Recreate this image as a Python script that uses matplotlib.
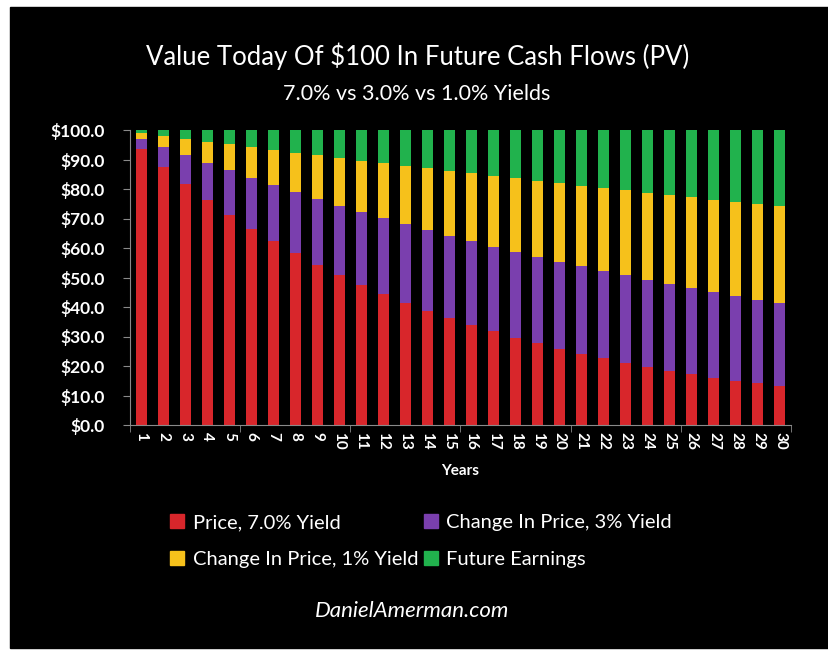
import matplotlib
matplotlib.use('Agg')
import matplotlib.pyplot as plt
from matplotlib.patches import Rectangle, Patch
import numpy as np

years = list(range(1, 31))

# cumulative tops
price_7 = [93.5, 87.3, 81.6, 76.3, 71.3, 66.6, 62.3, 58.2, 54.4, 50.8,
           47.5, 44.4, 41.5, 38.8, 36.2, 33.9, 31.7, 29.6, 27.7, 25.8,
           24.2, 22.6, 21.1, 19.7, 18.4, 17.2, 16.1, 15.0, 14.1, 13.1]
price_3 = [97.1, 94.3, 91.5, 88.8, 86.3, 83.7, 81.3, 78.9, 76.6, 74.4,
           72.2, 70.1, 68.1, 66.1, 64.2, 62.3, 60.5, 58.7, 57.0, 55.4,
           53.8, 52.2, 50.7, 49.2, 47.8, 46.4, 45.0, 43.7, 42.4, 41.2]
price_1 = [99.0, 98.0, 97.1, 96.1, 95.1, 94.2, 93.3, 92.3, 91.4, 90.5,
           89.6, 88.7, 87.9, 87.0, 86.1, 85.3, 84.4, 83.6, 82.8, 82.0,
           81.1, 80.3, 79.5, 78.8, 78.0, 77.2, 76.4, 75.7, 74.9, 74.2]
total = [100.0] * 30

series_labels = ["Price, 7.0% Yield", "Change In Price, 3% Yield",
                 "Change In Price, 1% Yield", "Future Earnings"]
colors = ["#d8262b", "#7a3fae", "#f6c11b", "#21b24d"]

tops = [np.array(price_7), np.array(price_3), np.array(price_1), np.array(total)]
bottoms = [np.zeros(30)] + tops[:-1]

plt.rcParams['font.family'] = ['Lato', 'DejaVu Sans']

fig = plt.figure(figsize=(8.29, 6.52), dpi=100, facecolor='white')
fig.patches.append(Rectangle((10 / 829, 4 / 652), 819 / 829, 641 / 652,
                             transform=fig.transFigure, color='black', zorder=-5))

ax = fig.add_axes([130 / 829, 1 - 425 / 652, 661 / 829, 295 / 652])
ax.set_facecolor('black')

for top, bot, col in zip(tops, bottoms, colors):
    ax.bar(years, top - bot, bottom=bot, width=0.5, color=col, zorder=2)

ax.set_xlim(0.5, 30.5)
ax.set_ylim(0, 100)
ax.set_yticks(range(0, 101, 10))
ax.set_yticklabels([f"${v:.1f}" for v in range(0, 101, 10)])
ax.set_xticks(years)
ax.set_xticklabels([str(y) for y in years], rotation=270)
ax.set_xticks(np.arange(0.5, 31, 5), minor=True)

for s in ['top', 'right']:
    ax.spines[s].set_visible(False)
for s in ['left', 'bottom']:
    ax.spines[s].set_color('#8a8a8a')

ax.tick_params(axis='y', colors='#8a8a8a', labelcolor='white', length=5,
               pad=13, labelsize=12.5)
ax.tick_params(axis='x', which='major', length=0, labelcolor='white', labelsize=11, pad=5)
ax.tick_params(axis='x', which='minor', length=5, color='#8a8a8a')
for lbl in ax.get_yticklabels() + ax.get_xticklabels():
    lbl.set_fontweight('bold')

ax.set_xlabel("Years", color='white', fontsize=11, fontweight='bold', labelpad=10)

fig.text(0.504, 1 - 56 / 652, "Value Today Of $100 In Future Cash Flows (PV)",
         ha='center', va='center', color='white', fontsize=18.5)
fig.text(0.503, 1 - 94 / 652, "7.0% vs 3.0% vs 1.0% Yields",
         ha='center', va='center', color='white', fontsize=15.5)

# matplotlib fills legend columns first, so reorder to read row by row
order = [0, 2, 1, 3]
handles = [Patch(color=colors[i]) for i in order]
labels = [series_labels[i] for i in order]
fig.legend(handles, labels, loc='center', ncol=2,
           bbox_to_anchor=(0.508, 1 - 541 / 652), frameon=False,
           labelcolor='white', fontsize=14.5, handlelength=0.7, handleheight=0.7,
           handletextpad=0.4, columnspacing=0.3, labelspacing=0.95)

fig.text(0.497, 1 - 611 / 652, "DanielAmerman.com", ha='center', va='center',
         color='white', fontsize=16, style='italic')

fig.savefig("out.png", dpi=100, facecolor='white')
